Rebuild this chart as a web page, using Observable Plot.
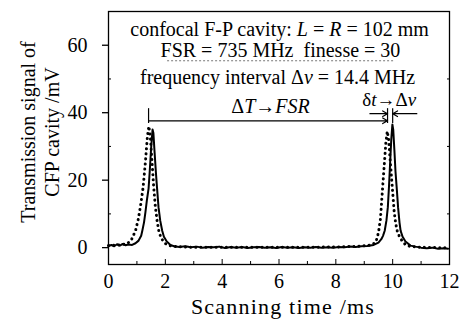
<!DOCTYPE html>
<html><head><meta charset="utf-8">
<script src="https://cdn.jsdelivr.net/npm/d3@7"></script>
<script src="https://cdn.jsdelivr.net/npm/@observablehq/plot@0.6"></script>
<style>body{margin:0;background:#fff}</style>
</head><body><div id="chart"></div>
<script>
// measured transmission (solid)
const solidT = [0,0.1,0.2,0.3,0.4,0.5,0.6,0.7,0.83,0.95,1.05,1.15,1.19,1.25,1.3,1.35,1.41,1.45,1.5,1.55,1.58,1.62,1.67,1.71,1.76,1.82,1.89,1.95,2.05,2.18,2.3,2.5,2.7,2.9,3.1,3.3,3.5,3.7,3.9,4.1,4.3,4.5,4.7,4.9,5.1,5.3,5.5,5.7,5.9,6.1,6.3,6.5,6.7,6.9,7.1,7.3,7.5,7.7,7.9,8.1,8.3,8.5,8.7,8.9,9.1,9.33,9.5,9.6,9.66,9.72,9.78,9.83,9.87,9.91,9.95,9.99,10.02,10.06,10.1,10.14,10.19,10.24,10.28,10.35,10.45,10.63,10.8,11.0,11.2,11.4,11.6,11.8,11.95];
const solidV = [0.5,0.8,0.4,1.0,0.6,1.1,0.7,0.9,0.8,1.3,2.0,3.5,5.0,7.5,10.5,14.0,17.5,22.5,29.5,35.0,34.0,28.5,22.0,17.5,12.0,8.0,5.0,3.2,1.8,0.8,0.4,0.2,0.4,0.1,0.3,0.0,0.2,0.1,0.3,-0.1,0.2,0.0,0.2,-0.1,0.1,0.2,0.0,0.1,-0.1,0.2,0.0,0.1,-0.1,0.1,0.0,0.2,0.0,0.1,0.0,0.2,0.1,0.3,0.2,0.4,0.5,0.8,1.5,2.5,3.5,5.0,8.0,12.0,18.0,25.0,32.0,36.5,35.0,29.0,22.5,18.0,12.0,7.5,5.0,3.2,1.8,0.6,0.3,0.0,-0.2,0.0,-0.3,-0.2,-0.3];
// calculated transmission (dotted)
const dotT = [0,0.2,0.4,0.55,0.66,0.8,0.95,1.05,1.13,1.22,1.3,1.37,1.42,1.47,1.53,1.59,1.65,1.71,1.77,1.85,2.0,2.15,2.4,3,4,5,6,7,8,8.8,9.2,9.3,9.4,9.46,9.51,9.57,9.64,9.7,9.76,9.81,9.86,9.92,9.99,10.05,10.1,10.16,10.25,10.35,10.46,10.6,11,11.5,11.95];
const dotV = [0.6,0.7,0.8,1.0,1.2,2.2,5.0,8.5,12.5,18.0,25.5,33.0,36.0,33.0,25.5,18.0,12.0,8.0,5.0,2.8,1.2,0.6,0.3,0.1,0.1,0.1,0.1,0.1,0.2,0.4,0.7,1.0,1.6,3.0,5.0,8.5,17.0,24.0,31.0,34.5,32.0,25.0,17.5,11.0,7.5,5.0,3.0,1.8,0.8,0.4,0.1,0.0,0.0];

const xTicks = [0,2,4,6,8,10,12];
const xMinor = [1,3,5,7,9,11];
const yTicks = [0,20,40,60];
const yMinor = [10,30,50];

// annotation anchors (data units)
const bracketX = [1.41, 9.82, 10.0];
const bracketY = [36.8, 41.2];
const deltaTSpan = [1.41, 9.82];
const deltaTLevel = 37.6;
const smallArrowLevel = 39.7;
const smallArrows = [{from: 9.2, to: 9.82}, {from: 10.85, to: 10.0}];
const underlineSpan = [2.08, 10.1];
const underlineLevel = 55.4;

const xLabel = "Scanning time /ms";
const yLabel1 = "Transmission signal of";
const yLabel2 = "CFP cavity /mV";

const notes = [
  {t: "confocal F-P cavity: L = R = 102 mm", x: 6.02, y: 64.6, s: 20},
  {t: "FSR = 735 MHz  finesse = 30", x: 6.05, y: 58.4, s: 20},
  {t: "frequency interval Δν = 14.4 MHz", x: 5.95, y: 50.4, s: 20},
  {t: "ΔT→FSR", x: 5.7, y: 41.8, s: 20},
  {t: "δt→Δν", x: 9.88, y: 43.7, s: 19}
];
const italics = {
  "confocal F-P cavity: L = R = 102 mm": [["confocal F-P cavity: ",0],["L",1],[" = ",0],["R",1],[" = 102 mm",0]],
  "frequency interval Δν = 14.4 MHz": [["frequency interval Δ",0],["ν",1],[" = 14.4 MHz",0]],
  "ΔT→FSR": [["Δ",0],["T",1],["→",0],["FSR",1]],
  "δt→Δν": [["δ",0],["t",1],["→Δ",0],["ν",1]]
};

const solid = solidT.map((t,i)=>({t, v: solidV[i]}));
const dotted = dotT.map((t,i)=>({t, v: dotV[i]}));

const font = "'Liberation Serif', 'DejaVu Serif', serif";

const chart = Plot.plot({
  width: 464, height: 331,
  marginLeft: 108, marginRight: 15, marginTop: 11, marginBottom: 67,
  style: {fontFamily: font, fontSize: "20px", color: "#000", background: "#fff"},
  x: {domain: [0, 12]},
  y: {domain: [-5, 70]},
  marks: [
    Plot.frame({stroke: "#000", strokeWidth: 1.3}),
    Plot.axisX(xTicks, {tickSize: 0, tickPadding: 9, label: null, fontSize: 20}),
    Plot.axisX(xTicks, {tickSize: -5, text: null, label: null}),
    Plot.axisX(xMinor, {tickSize: -3, text: null, label: null}),
    Plot.axisY(yTicks, {tickSize: 6, tickPadding: 15, label: null, fontSize: 20, strokeWidth: 1.3}),
    Plot.axisY(yMinor, {tickSize: -3, text: null, label: null}),
    Plot.axisY(yMinor, {anchor: "right", tickSize: -3, text: null, label: null}),
    Plot.line(dotted, {x: "t", y: "v", stroke: "#000", strokeWidth: 3, strokeDasharray: "0.1,5", strokeLinecap: "round"}),
    Plot.line(solid, {x: "t", y: "v", stroke: "#000", strokeWidth: 2}),
    Plot.ruleX(bracketX, {y1: bracketY[0], y2: bracketY[1], stroke: "#000", strokeWidth: 1.2}),
    Plot.arrow([deltaTSpan], {x1: d=>d[0], x2: d=>d[1], y1: deltaTLevel, y2: deltaTLevel, stroke: "#000", strokeWidth: 1.2, headLength: 7, bend: 0}),
    Plot.arrow(smallArrows, {x1: "from", x2: "to", y1: smallArrowLevel, y2: smallArrowLevel, stroke: "#000", strokeWidth: 1.2, headLength: 7}),
    Plot.ruleY([underlineLevel], {x1: underlineSpan[0], x2: underlineSpan[1], stroke: "#777", strokeWidth: 1, strokeDasharray: "2,2"}),
    Plot.text(notes, {x: "x", y: "y", text: "t", fontSize: "s", fill: "#000"}),
    Plot.text([yLabel1], {frameAnchor: "left", textAnchor: "middle", lineAnchor: "middle", dx: -80, dy: -6, rotate: -90, fontSize: 20, fill: "#000"}),
    Plot.text([yLabel2], {frameAnchor: "left", textAnchor: "middle", lineAnchor: "middle", dx: -56, dy: -6, rotate: -90, fontSize: 20, fill: "#000"}),
    Plot.text([xLabel], {frameAnchor: "bottom", dy: 49, dx: 4, fontSize: 22, fill: "#000"})
  ]
});

d3.select(chart).selectAll("text").each(function() {
  const txt = this.textContent;
  if (italics[txt]) {
    const el = d3.select(this);
    el.text(null);
    for (const [s, it] of italics[txt]) {
      el.append("tspan").attr("font-style", it ? "italic" : null).text(s);
    }
  } else if (txt === xLabel) {
    d3.select(this).attr("letter-spacing", "1.2px");
  }
});
document.getElementById("chart").append(chart);
</script>
</body></html>
